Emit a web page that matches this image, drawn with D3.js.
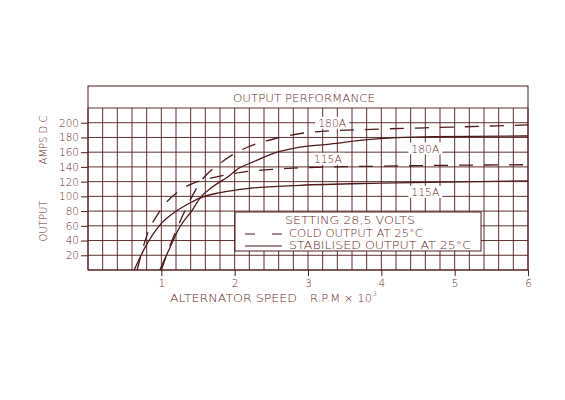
<!DOCTYPE html>
<html>
<head>
<meta charset="utf-8">
<script src="https://cdn.jsdelivr.net/npm/d3@7"></script>
<style>
  body { margin: 0; background: #fff; }
  text { font-family: "DejaVu Sans", "Liberation Sans", sans-serif; font-weight: 300; fill: #6b2a2a; }
</style>
</head>
<body>
<script>
// tick labels
const speedTicks = [1, 2, 3, 4, 5, 6];
const ampTicks = [20, 40, 60, 80, 100, 120, 140, 160, 180, 200];

// curves: speed (x1000 rpm) and output amps
const cold180Speed = [1.0, 1.15, 1.32, 1.53, 1.83, 2.18, 2.58, 3.03, 3.87, 4.94, 6.0];
const cold180Amps  = [0, 41, 80, 119, 147, 167, 179, 187, 191, 194, 197];
const cold115Speed = [0.67, 0.80, 0.98, 1.30, 1.53, 1.69, 2.11, 2.55, 2.96, 3.98, 6.0];
const cold115Amps  = [0, 46, 80, 111, 121, 125, 133, 137, 139, 141, 143];
const stab180Speed = [0.98, 1.12, 1.25, 1.42, 1.53, 1.70, 1.90, 2.07, 2.21, 2.58, 2.89, 3.30, 3.80, 4.70, 6.0];
const stab180Amps  = [0, 31, 58, 81, 98, 113, 126, 139, 145, 160, 167, 171, 177, 181, 182];
const stab115Speed = [0.63, 0.78, 0.98, 1.19, 1.39, 1.53, 1.80, 2.21, 2.89, 3.98, 6.0];
const stab115Amps  = [0, 31, 61, 79, 91, 98, 105, 111, 115, 118, 121];

// curve labels (text, speed, amps)
const labelText  = ["180A", "115A", "180A", "115A"];
const labelSpeed = [3.33, 3.27, 4.60, 4.60];
const labelAmps  = [200, 151, 165, 106];

const ink = "#4e1a1a";

const svg = d3.select("body")
  .append("svg")
  .attr("width", 565)
  .attr("height", 400);

const x = d3.scaleLinear().domain([0, 6]).range([88, 528]);
const y = d3.scaleLinear().domain([0, 220]).range([270, 108]);

// grid
const grid = svg.append("g")
  .attr("stroke", ink)
  .attr("stroke-width", 0.9);

grid.selectAll(".vg")
  .data(d3.range(0, 6.001, 0.2))
  .enter()
  .append("line")
  .attr("x1", d => x(d))
  .attr("x2", d => x(d))
  .attr("y1", y(0))
  .attr("y2", y(220));

grid.selectAll(".hg")
  .data(d3.range(0, 221, 20))
  .enter()
  .append("line")
  .attr("x1", x(0))
  .attr("x2", x(6))
  .attr("y1", d => y(d))
  .attr("y2", d => y(d));

// outer frame with title bar
svg.append("rect")
  .attr("x", x(0))
  .attr("y", 86)
  .attr("width", x(6) - x(0))
  .attr("height", y(0) - 86)
  .attr("fill", "none")
  .attr("stroke", ink)
  .attr("stroke-width", 1);

svg.append("text")
  .attr("x", 233)
  .attr("y", 101.5)
  .attr("textLength", 142)
  .attr("lengthAdjust", "spacingAndGlyphs")
  .style("font-size", "10.5px")
  .text("OUTPUT PERFORMANCE");

// axes
const yAxis = svg.append("g")
  .attr("transform", `translate(${x(0)},0)`)
  .call(d3.axisLeft(y).tickValues(ampTicks).tickSize(7).tickPadding(2));

const xAxis = svg.append("g")
  .attr("transform", `translate(0,${y(0)})`)
  .call(d3.axisBottom(x).tickValues(speedTicks).tickFormat(d3.format("d")).tickSize(6).tickPadding(4));

[yAxis, xAxis].forEach(a => {
  a.select(".domain").remove();
  a.selectAll("line").attr("stroke", ink);
  a.selectAll("text")
    .style("font-family", "'DejaVu Sans', sans-serif")
    .style("font-size", "10.5px")
    .attr("fill", "#6b2a2a");
});

// axis titles
svg.append("text")
  .attr("transform", "translate(47,140) rotate(-90)")
  .attr("text-anchor", "middle")
  .style("font-size", "10px")
  .text("AMPS  D.C");

svg.append("text")
  .attr("transform", "translate(47,221) rotate(-90)")
  .attr("text-anchor", "middle")
  .style("font-size", "10px")
  .text("OUTPUT");

svg.append("text")
  .attr("x", 170)
  .attr("y", 302)
  .attr("textLength", 127)
  .attr("lengthAdjust", "spacingAndGlyphs")
  .style("font-size", "10.5px")
  .text("ALTERNATOR SPEED");

svg.append("text")
  .attr("x", 310)
  .attr("y", 302)
  .attr("textLength", 62)
  .attr("lengthAdjust", "spacingAndGlyphs")
  .style("font-size", "10.5px")
  .text("R.P.M \u00d7 10");

svg.append("text")
  .attr("x", 373)
  .attr("y", 296)
  .style("font-size", "6px")
  .text("3");

// curves
const line = d3.line()
  .x(d => x(d[0]))
  .y(d => y(d[1]))
  .curve(d3.curveMonotoneX);

const series = [
  { speed: cold180Speed, amps: cold180Amps, dash: "14,11" },
  { speed: cold115Speed, amps: cold115Amps, dash: "14,11" },
  { speed: stab180Speed, amps: stab180Amps, dash: null },
  { speed: stab115Speed, amps: stab115Amps, dash: null }
];

svg.selectAll(".curve")
  .data(series)
  .enter()
  .append("path")
  .attr("d", s => line(d3.zip(s.speed, s.amps)))
  .attr("fill", "none")
  .attr("stroke", ink)
  .attr("stroke-width", 1.3)
  .attr("stroke-dasharray", s => s.dash);

// curve labels with white boxes
const labels = svg.selectAll(".lab")
  .data(d3.zip(labelText, labelSpeed, labelAmps))
  .enter()
  .append("g")
  .attr("transform", d => `translate(${x(d[1])},${y(d[2])})`);

labels.append("rect")
  .attr("x", -17)
  .attr("y", -6)
  .attr("width", 34)
  .attr("height", 12)
  .attr("fill", "#fff");

labels.append("text")
  .attr("x", -14)
  .attr("y", 4)
  .attr("textLength", 28)
  .attr("lengthAdjust", "spacingAndGlyphs")
  .style("font-size", "10.5px")
  .text(d => d[0]);

// legend box
const lg = svg.append("g").attr("transform", "translate(235,212)");

lg.append("rect")
  .attr("width", 246)
  .attr("height", 39)
  .attr("fill", "#fff")
  .attr("stroke", ink)
  .attr("stroke-width", 1);

lg.append("text")
  .attr("x", 50)
  .attr("y", 11.5)
  .attr("textLength", 130)
  .attr("lengthAdjust", "spacingAndGlyphs")
  .style("font-size", "10px")
  .text("SETTING 28,5 VOLTS");

lg.append("line")
  .attr("x1", 10).attr("x2", 47)
  .attr("y1", 22).attr("y2", 22)
  .attr("stroke", ink)
  .attr("stroke-width", 1.2)
  .attr("stroke-dasharray", "10,17");

lg.append("text")
  .attr("x", 54)
  .attr("y", 25)
  .attr("textLength", 134)
  .attr("lengthAdjust", "spacingAndGlyphs")
  .style("font-size", "10px")
  .text("COLD OUTPUT AT 25\u00b0C");

lg.append("line")
  .attr("x1", 10).attr("x2", 47)
  .attr("y1", 34).attr("y2", 34)
  .attr("stroke", ink)
  .attr("stroke-width", 1.2);

lg.append("text")
  .attr("x", 54)
  .attr("y", 37)
  .attr("textLength", 182)
  .attr("lengthAdjust", "spacingAndGlyphs")
  .style("font-size", "10px")
  .text("STABILISED OUTPUT AT 25\u00b0C");
</script>
</body>
</html>
